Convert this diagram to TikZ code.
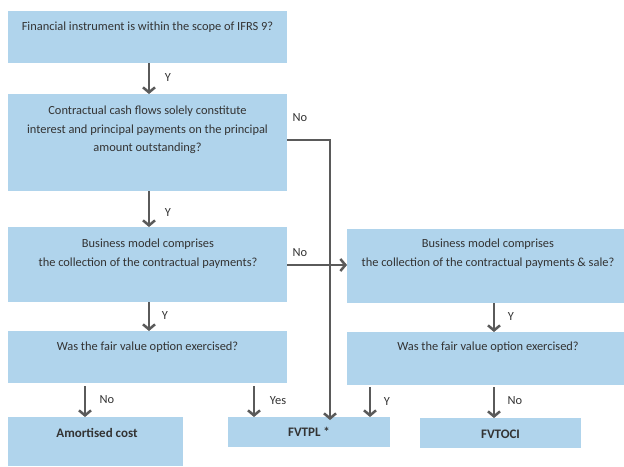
\documentclass[tikz,border=0pt]{standalone}
\usepackage{fontspec}
\setmainfont{Carlito}
\usetikzlibrary{arrows.meta}
\definecolor{boxblue}{HTML}{B0D4EC}
\definecolor{arrgray}{HTML}{5A5A5A}
\definecolor{txtgray}{HTML}{333333}
\begin{document}
\begin{tikzpicture}[x=1pt,y=-1pt,
  box/.style={fill=boxblue, draw=none, inner sep=0pt, outer sep=0pt},
  txt/.style={text=txtgray, font=\fontsize{12.4}{18.5}\selectfont, align=center, inner sep=0pt},
  btxt/.style={txt, font=\fontsize{13}{18.5}\selectfont\bfseries},
  lab/.style={text=txtgray, font=\fontsize{12.4}{14}\selectfont, inner sep=0pt},
  arr/.style={draw=arrgray, line width=2.5pt, -{Straight Barb[length=5pt,width=12pt,line width=2.5pt]}},
  ln/.style={draw=arrgray, line width=2.5pt}]
\useasboundingbox (0,0) rectangle (624,466);
% boxes
\node[box, minimum width=279pt, minimum height=52pt] (b1) at (147.5,37) {};
\node[box, minimum width=279pt, minimum height=97pt] (b2) at (147.5,142.5) {};
\node[box, minimum width=279pt, minimum height=75pt] (b3) at (147.5,264.5) {};
\node[box, minimum width=277pt, minimum height=74pt] (b4) at (485.5,266) {};
\node[box, minimum width=279pt, minimum height=52pt] (b5) at (147.5,357) {};
\node[box, minimum width=277pt, minimum height=53pt] (b6) at (485.5,358.5) {};
\node[box, minimum width=175pt, minimum height=49pt] (b7) at (95.5,441.5) {};
\node[box, minimum width=162pt, minimum height=30pt] (b8) at (309,432) {};
\node[box, minimum width=161pt, minimum height=30pt] (b9) at (500.5,433) {};
% texts
\node[txt] (t1) at (147.5,27) {Financial instrument is within the scope of IFRS 9?};
\node[txt] (t2) at (147.5,130) {Contractual cash flows solely constitute\\interest and principal payments on the principal\\amount outstanding?};
\node[txt] (t3) at (148,253.5) {Business model comprises\\the collection of the contractual payments?};
\node[txt] (t4) at (488,253.5) {Business model comprises\\the collection of the contractual payments \& sale?};
\node[txt] (t5) at (147.5,347) {Was the fair value option exercised?};
\node[txt] (t6) at (488,347) {Was the fair value option exercised?};
\node[btxt] (t7) at (97,433) {Amortised cost};
\node[btxt] (t8) at (309,432) {FVTPL *};
\node[btxt] (t9) at (500.5,434) {FVTOCI};
% x positions of arrows
\coordinate (xa) at (149,0);
\coordinate (xb) at (85,0);
\coordinate (xc) at (254,0);
\coordinate (xd) at (370,0);
\coordinate (xe) at (494,0);
\coordinate (xf) at (330,0);
\coordinate (ya) at (0,140);
\coordinate (yb) at (0,265);
% arrows
\draw[arr] (xa |- b1.south) -- (xa |- b2.north);
\draw[arr] (xa |- b2.south) -- (xa |- b3.north);
\draw[arr] (xa |- b3.south) -- (xa |- b5.north);
\draw[arr] (b3.east |- yb) -- (b4.west |- yb);
\draw[arr] (b2.east |- ya) -| ([yshift=-3pt]xf |- b8.north);
\draw[arr, shorten <=3pt] (xb |- b5.south) -- (xb |- b7.north);
\draw[arr, shorten <=3pt] (xc |- b5.south) -- (xc |- b8.north);
\draw[arr, shorten <=2pt] (xd |- b6.south) -- (xd |- b8.north);
\draw[arr] (xe |- b4.south) -- (xe |- b6.north);
\draw[arr, shorten <=2pt] (xe |- b6.south) -- (xe |- b9.north);
% labels
\node[lab] (l1) at (168,78) {Y};
\node[lab] (l2) at (168,213) {Y};
\node[lab] (l3) at (165,316) {Y};
\node[lab] (l4) at (300,253) {No};
\node[lab] (l5) at (300,118) {No};
\node[lab] (l6) at (107,400) {No};
\node[lab] (l7) at (278,401) {Yes};
\node[lab] (l8) at (387,402) {Y};
\node[lab] (l9) at (511,317) {Y};
\node[lab] (l10) at (515,401) {No};
\end{tikzpicture}
\end{document}
